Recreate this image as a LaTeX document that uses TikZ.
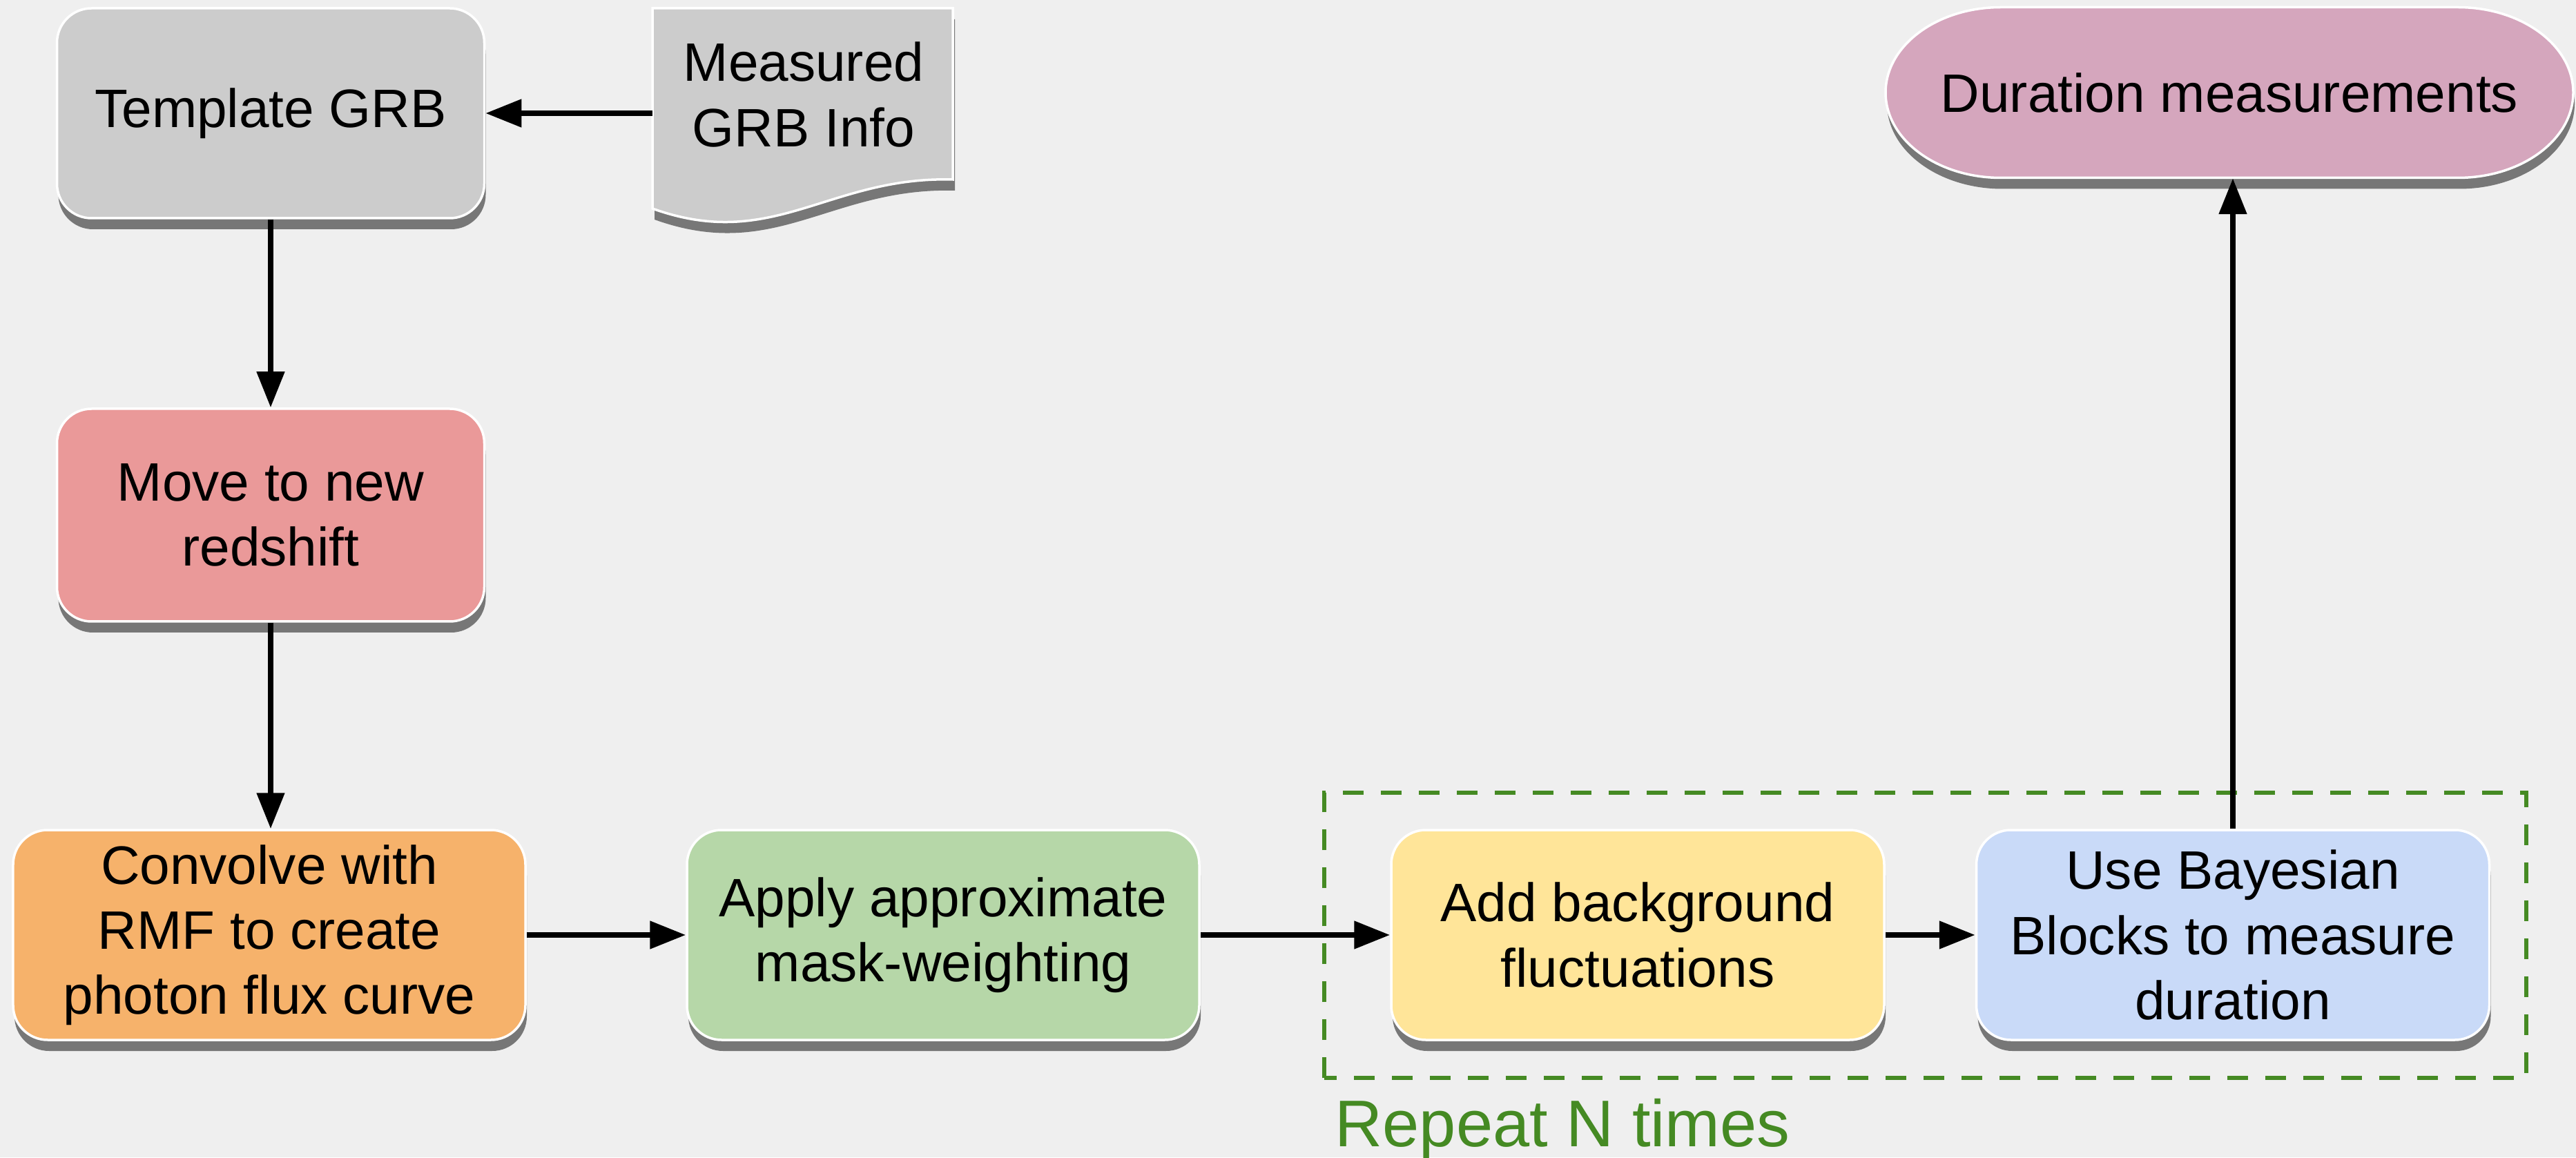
\documentclass[tikz,border=0pt]{standalone}
\usepackage{fontspec}
\setmainfont{Liberation Sans}
\usetikzlibrary{arrows.meta,shadows}

\definecolor{bgcol}{HTML}{EFEFEF}
\definecolor{shadowgray}{HTML}{777777}
\definecolor{greyfill}{HTML}{CCCCCC}
\definecolor{redfill}{HTML}{EA9999}
\definecolor{orangefill}{HTML}{F6B26B}
\definecolor{greenfill}{HTML}{B6D7A8}
\definecolor{yellowfill}{HTML}{FFE599}
\definecolor{bluefill}{HTML}{C9DAF8}
\definecolor{pinkfill}{HTML}{D5A6BD}
\definecolor{repeatgreen}{HTML}{458A23}

\newcommand{\boxfont}{\fontsize{22.3}{26.8}\selectfont}

\begin{document}
\begin{tikzpicture}[
  stepbox/.style={rounded corners=0.5cm, draw=white, line width=0.035cm, align=center,
    inner sep=0pt, font=\boxfont, minimum height=3.04cm,
    drop shadow={shadow xshift=0.02cm, shadow yshift=-0.16cm, fill=shadowgray, opacity=1}},
  flow/.style={line width=0.08cm, -{Triangle[length=0.52cm,width=0.39cm]}},
]

% Canvas
\fill[bgcol] (0,0) rectangle (37.31,16.76);
\useasboundingbox (0,0) rectangle (37.31,16.76);

% Simulation chain (left column, then along the bottom)
\node[stepbox, fill=greyfill, minimum width=6.19cm] (tmpl) at (3.92,15.12) {Template GRB};
\node[stepbox, fill=redfill, minimum width=6.19cm, minimum height=3.08cm] (move) at (3.92,9.30) {Move to new\\redshift};
\node[stepbox, fill=orangefill, minimum width=7.42cm] (conv) at (3.90,3.22) {Convolve with\\RMF to create\\photon flux curve};
\node[stepbox, fill=greenfill, minimum width=7.42cm] (mask) at (13.66,3.22) {Apply approximate\\mask-weighting};
\node[stepbox, fill=yellowfill, minimum width=7.14cm] (bkg) at (23.72,3.22) {Add background\\fluctuations};
\node[stepbox, fill=bluefill, minimum width=7.43cm] (bb) at (32.34,3.22) {Use Bayesian\\Blocks to measure\\duration};

% Input sheet with wavy bottom edge
\fill[shadowgray, shift={(0.03,-0.16)}] (9.45,16.64) -- (13.80,16.64) -- (13.80,14.16)
  .. controls (12.00,14.21) and (11.20,13.11) .. (9.45,13.74) -- cycle;
\filldraw[fill=greyfill, draw=white, line width=0.035cm] (9.45,16.64) -- (13.80,16.64) -- (13.80,14.16)
  .. controls (12.00,14.21) and (11.20,13.11) .. (9.45,13.74) -- cycle;
\node[font=\boxfont, align=center, inner sep=0pt] (info) at (11.64,15.39) {Measured\\GRB Info};
\coordinate (infoedge) at (9.45,15.12);

% Output terminal (elliptic ends)
\fill[shadowgray, shift={(0.02,-0.16)}] (28.98,16.655) -- (35.60,16.655)
  arc[start angle=90, end angle=-90, x radius=1.67cm, y radius=1.235cm] -- (28.98,14.185)
  arc[start angle=270, end angle=90, x radius=1.67cm, y radius=1.235cm] -- cycle;
\filldraw[fill=pinkfill, draw=white, line width=0.035cm] (28.98,16.655) -- (35.60,16.655)
  arc[start angle=90, end angle=-90, x radius=1.67cm, y radius=1.235cm] -- (28.98,14.185)
  arc[start angle=270, end angle=90, x radius=1.67cm, y radius=1.235cm] -- cycle;
\node[font=\boxfont, inner sep=0pt, minimum width=9.96cm, minimum height=2.47cm] (dur) at (32.29,15.42) {Duration measurements};

% Repeated part of the loop
\draw[repeatgreen, line width=0.06cm, dash pattern=on 0.3cm off 0.25cm] (19.18,1.15) rectangle (36.59,5.28);
\node[repeatgreen, font=\fontsize{27.2}{30}\selectfont, anchor=base west, inner sep=0pt] (reptxt) at (19.33,0.16) {Repeat N times};

% Connectors
\draw[flow] (infoedge) -- (tmpl.east);
\draw[flow] (tmpl) -- (move);
\draw[flow] (move.south) -- (move.south |- conv.north);
\draw[flow] (conv) -- (mask);
\draw[flow] (mask) -- (bkg);
\draw[flow] (bkg) -- (bb);
\draw[flow] (bb) -- (bb |- dur.south);

\end{tikzpicture}
\end{document}
